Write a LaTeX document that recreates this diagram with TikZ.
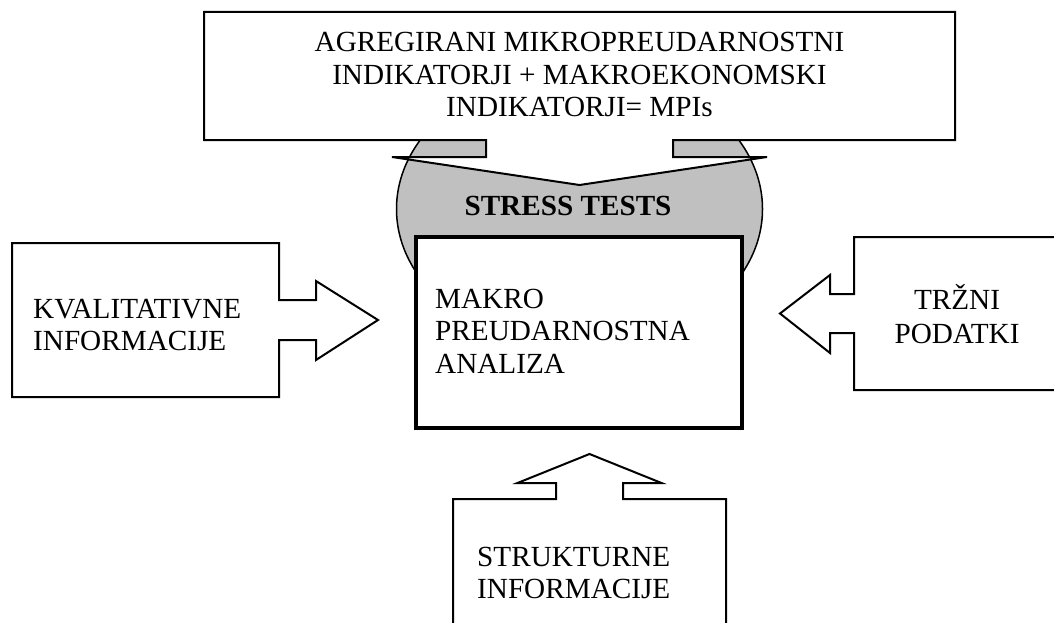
\documentclass[tikz,border=0pt]{standalone}
\usepackage{fontspec}
\setmainfont{Liberation Serif}
\definecolor{shade}{RGB}{192,192,192}
\begin{document}
\begin{tikzpicture}[x=1pt,y=-1pt,
  callout/.style={draw=black, line width=2pt, fill=white, line join=miter},
  mainbox/.style={draw=black, line width=3.5pt, fill=white},
  txt/.style={inner sep=0pt, font=\fontsize{29.2}{32.5}\selectfont},
]
\useasboundingbox (0,0) rectangle (1054,623);
\clip (0,0) rectangle (1054,623);
% stress-test ellipse
\draw[fill=shade, line width=1.5pt] (579.5,209) ellipse [x radius=183pt, y radius=140pt];
% top callout
\draw[callout] (204,12) -- (955,12) -- (955,140) -- (673,140) -- (673,157) -- (767,157)
  -- (579.5,185) -- (392,157) -- (486,157) -- (486,140) -- (204,140) -- cycle;
\node[txt, anchor=base] (top) at (579.5,52)
  {\begin{tabular}[t]{@{}c@{}}AGREGIRANI MIKROPREUDARNOSTNI\\INDIKATORJI + MAKROEKONOMSKI\\INDIKATORJI= MPIs\end{tabular}};
% stress tests label
\node[txt, anchor=base, font=\fontsize{29.2}{32.5}\selectfont\bfseries] (stress) at (568,215) {STRESS TESTS};
% central box
\draw[mainbox] (416,237) rectangle (742,428);
\node[txt, anchor=base west] (macro) at (435,308)
  {\begin{tabular}[t]{@{}l@{}}MAKRO\\PREUDARNOSTNA\\ANALIZA\end{tabular}};
% left callout
\draw[callout] (12,243) -- (279,243) -- (279,300) -- (316,300) -- (316,281) -- (378,320)
  -- (316,360) -- (316,340) -- (279,340) -- (279,397) -- (12,397) -- cycle;
\node[txt, anchor=base west] (kval) at (33,318)
  {\begin{tabular}[t]{@{}l@{}}KVALITATIVNE\\INFORMACIJE\end{tabular}};
% right callout
\draw[callout] (854,237) -- (1064,237) -- (1064,390) -- (854,390) -- (854,333) -- (830,333)
  -- (830,353) -- (780,313.5) -- (830,275) -- (830,294) -- (854,294) -- cycle;
\node[txt, anchor=base, font=\fontsize{29.2}{33.5}\selectfont] (trzni) at (957,309.5)
  {\begin{tabular}[t]{@{}c@{}}TRŽNI\\PODATKI\end{tabular}};
% bottom callout
\draw[callout] (453,640) -- (453,499) -- (556,499) -- (556,483) -- (517.5,483) -- (589.5,454)
  -- (661.5,483) -- (623,483) -- (623,499) -- (726,499) -- (726,640) -- cycle;
\node[txt, anchor=base west] (strukt) at (477,566)
  {\begin{tabular}[t]{@{}l@{}}STRUKTURNE\\INFORMACIJE\end{tabular}};
\end{tikzpicture}
\end{document}
